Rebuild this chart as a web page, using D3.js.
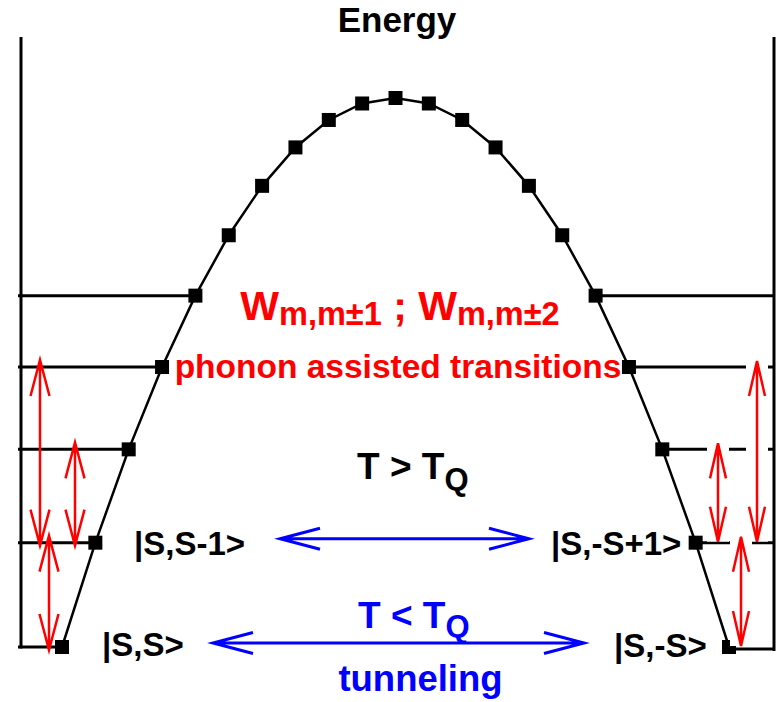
<!DOCTYPE html>
<html>
<head>
<meta charset="utf-8">
<script src="https://cdn.jsdelivr.net/npm/d3@7"></script>
<style>
  html, body { margin: 0; padding: 0; background: #fff; }
  svg { display: block; }
  text { font-family: "Liberation Sans", Arial, sans-serif; font-weight: bold; }
</style>
</head>
<body>
<svg id="chart" width="777" height="702"></svg>
<script>
// ---- data ----
const mStates = [10, 9, 8, 7, 6, 5, 4, 3, 2, 1, 0, -1, -2, -3, -4, -5, -6, -7, -8, -9, -10];
const energies = [-100, -81, -64, -49, -36, -25, -16, -9, -4, -1, 0, -1, -4, -9, -16, -25, -36, -49, -64, -81, -100];
const leftLevels = [10, 9, 8, 7, 6];
const rightLevels = [-10, -9, -8, -7, -6];
const leftTransitions = [[7, 9], [8, 9], [9, 10]];
const rightTransitions = [[-7, -9], [-8, -9], [-9, -10]];
const tunnelPairs = [[9, -9], [10, -10]];
const stateLabels = ["|S,S>", "|S,S-1>", "|S,-S+1>", "|S,-S>"];

const energyOf = new Map(mStates.map((m, i) => [m, energies[i]]));

const svg = d3.select("#chart");
const x = d3.scaleLinear().domain([10, -10]).range([62, 729]);
const y = d3.scaleLinear().domain([-100, 0]).range([647, 98]);

const axisLeftX = x(10) - 41, axisRightX = x(-10) + 45, axisTop = 37;

// axes (vertical walls)
svg.append("line").attr("x1", axisLeftX).attr("x2", axisLeftX)
  .attr("y1", axisTop).attr("y2", y(-100) + 1.5)
  .attr("stroke", "#000").attr("stroke-width", 3);
svg.append("line").attr("x1", axisRightX).attr("x2", axisRightX)
  .attr("y1", axisTop).attr("y2", y(-100) + 4)
  .attr("stroke", "#000").attr("stroke-width", 3);

// level lines
svg.selectAll("line.lvlL").data(leftLevels).join("line")
  .attr("x1", axisLeftX - 3).attr("x2", d => x(d))
  .attr("y1", d => y(energyOf.get(d))).attr("y2", d => y(energyOf.get(d)))
  .attr("stroke", "#000").attr("stroke-width", 3);
svg.selectAll("line.lvlR").data(rightLevels).join("line")
  .attr("x1", d => x(d)).attr("x2", axisRightX)
  .attr("y1", d => y(energyOf.get(d)) + (d === -10 ? 2 : 0))
  .attr("y2", d => y(energyOf.get(d)) + (d === -10 ? 2 : 0))
  .attr("stroke", "#000").attr("stroke-width", 3);

// the barrier curve
const line = d3.line().x(d => x(d)).y(d => y(energyOf.get(d)));
svg.append("path").datum(mStates).attr("d", line)
  .attr("fill", "none").attr("stroke", "#000").attr("stroke-width", 2.5);

const ms = 14;
svg.selectAll("rect.pt").data(mStates).join("rect")
  .attr("x", d => x(d) - ms / 2).attr("y", d => y(energyOf.get(d)) - ms / 2)
  .attr("width", ms).attr("height", ms).attr("fill", "#000");

// arrow helper (open V heads at both ends)
function arrow(g, x1, y1, x2, y2, color, sw, hl, hw) {
  const dx = x2 - x1, dy = y2 - y1, L = Math.hypot(dx, dy);
  const ux = dx / L, uy = dy / L, px = -uy, py = ux;
  const p = d3.path();
  p.moveTo(x1, y1); p.lineTo(x2, y2);
  p.moveTo(x2 - ux * hl + px * hw, y2 - uy * hl + py * hw);
  p.lineTo(x2, y2);
  p.lineTo(x2 - ux * hl - px * hw, y2 - uy * hl - py * hw);
  p.moveTo(x1 + ux * hl + px * hw, y1 + uy * hl + py * hw);
  p.lineTo(x1, y1);
  p.lineTo(x1 + ux * hl - px * hw, y1 + uy * hl - py * hw);
  g.append("path").attr("d", p.toString()).attr("fill", "none")
    .attr("stroke", color).attr("stroke-width", sw)
    .attr("stroke-linejoin", "miter").attr("stroke-linecap", "butt");
}

// red transitions, left
const leftArrowX = [40, 75, 49];
leftTransitions.forEach((t, i) => {
  arrow(svg, leftArrowX[i], y(energyOf.get(t[0])) - 7, leftArrowX[i], y(energyOf.get(t[1])) + 3, "#ff0000", 2.5, 36, 9.5);
});
// red transitions, right (with white gaps in level lines)
const rightArrowX = [757, 718, 741];
rightTransitions.forEach((t, i) => {
  svg.append("rect").attr("x", rightArrowX[i] - 11).attr("y", y(energyOf.get(t[0])) - 7)
    .attr("width", 22).attr("height", y(energyOf.get(t[1])) - y(energyOf.get(t[0])) + 6)
    .attr("fill", "#fff");
});
rightTransitions.forEach((t, i) => {
  arrow(svg, rightArrowX[i], y(energyOf.get(t[0])) - 6, rightArrowX[i], y(energyOf.get(t[1])) - 1, "#ff0000", 2.5, 35, 8);
});

// blue tunneling arrows
const tunnelX = [[280, 529], [213, 584]];
tunnelPairs.forEach((pr, i) => {
  const yy = y(energyOf.get(pr[0])) - 4;
  arrow(svg, tunnelX[i][0], yy, tunnelX[i][1], yy, "#0000ff", 3, 40, 10.5);
});

// texts
svg.append("text").attr("x", 397).attr("y", 32).attr("text-anchor", "middle")
  .attr("font-size", 35).attr("fill", "#000").text("Energy");

const w = svg.append("text").attr("x", 400).attr("y", 320).attr("text-anchor", "middle").attr("fill", "#ff0000");
w.append("tspan").attr("font-size", 41).text("W");
w.append("tspan").attr("font-size", 32.5).attr("dy", 5).text("m,m±1");
w.append("tspan").attr("font-size", 41).attr("dy", -5).text(" ; W");
w.append("tspan").attr("font-size", 32.5).attr("dy", 5).text("m,m±2");

svg.append("text").attr("x", 398).attr("y", 378).attr("text-anchor", "middle")
  .attr("font-size", 33.5).attr("fill", "#ff0000").text("phonon assisted transitions");

const tg = svg.append("text").attr("x", 357).attr("y", 479).attr("fill", "#000");
tg.append("tspan").attr("font-size", 37).text("T > T");
tg.append("tspan").attr("font-size", 31).attr("dy", 11).text("Q");

const tl = svg.append("text").attr("x", 358).attr("y", 628).attr("fill", "#0000ff");
tl.append("tspan").attr("font-size", 37).text("T < T");
tl.append("tspan").attr("font-size", 31).attr("dy", 9).text("Q");

svg.append("text").attr("x", 420.5).attr("y", 691).attr("text-anchor", "middle")
  .attr("font-size", 36.5).attr("fill", "#0000ff").text("tunneling");

// state labels
const labelPos = [[102, 656], [134, 555], [551, 555], [614, 657]];
svg.selectAll("text.state").data(stateLabels).join("text")
  .attr("x", (d, i) => labelPos[i][0]).attr("y", (d, i) => labelPos[i][1])
  .attr("font-size", 33).attr("fill", "#000").text(d => d);
</script>
</body>
</html>
